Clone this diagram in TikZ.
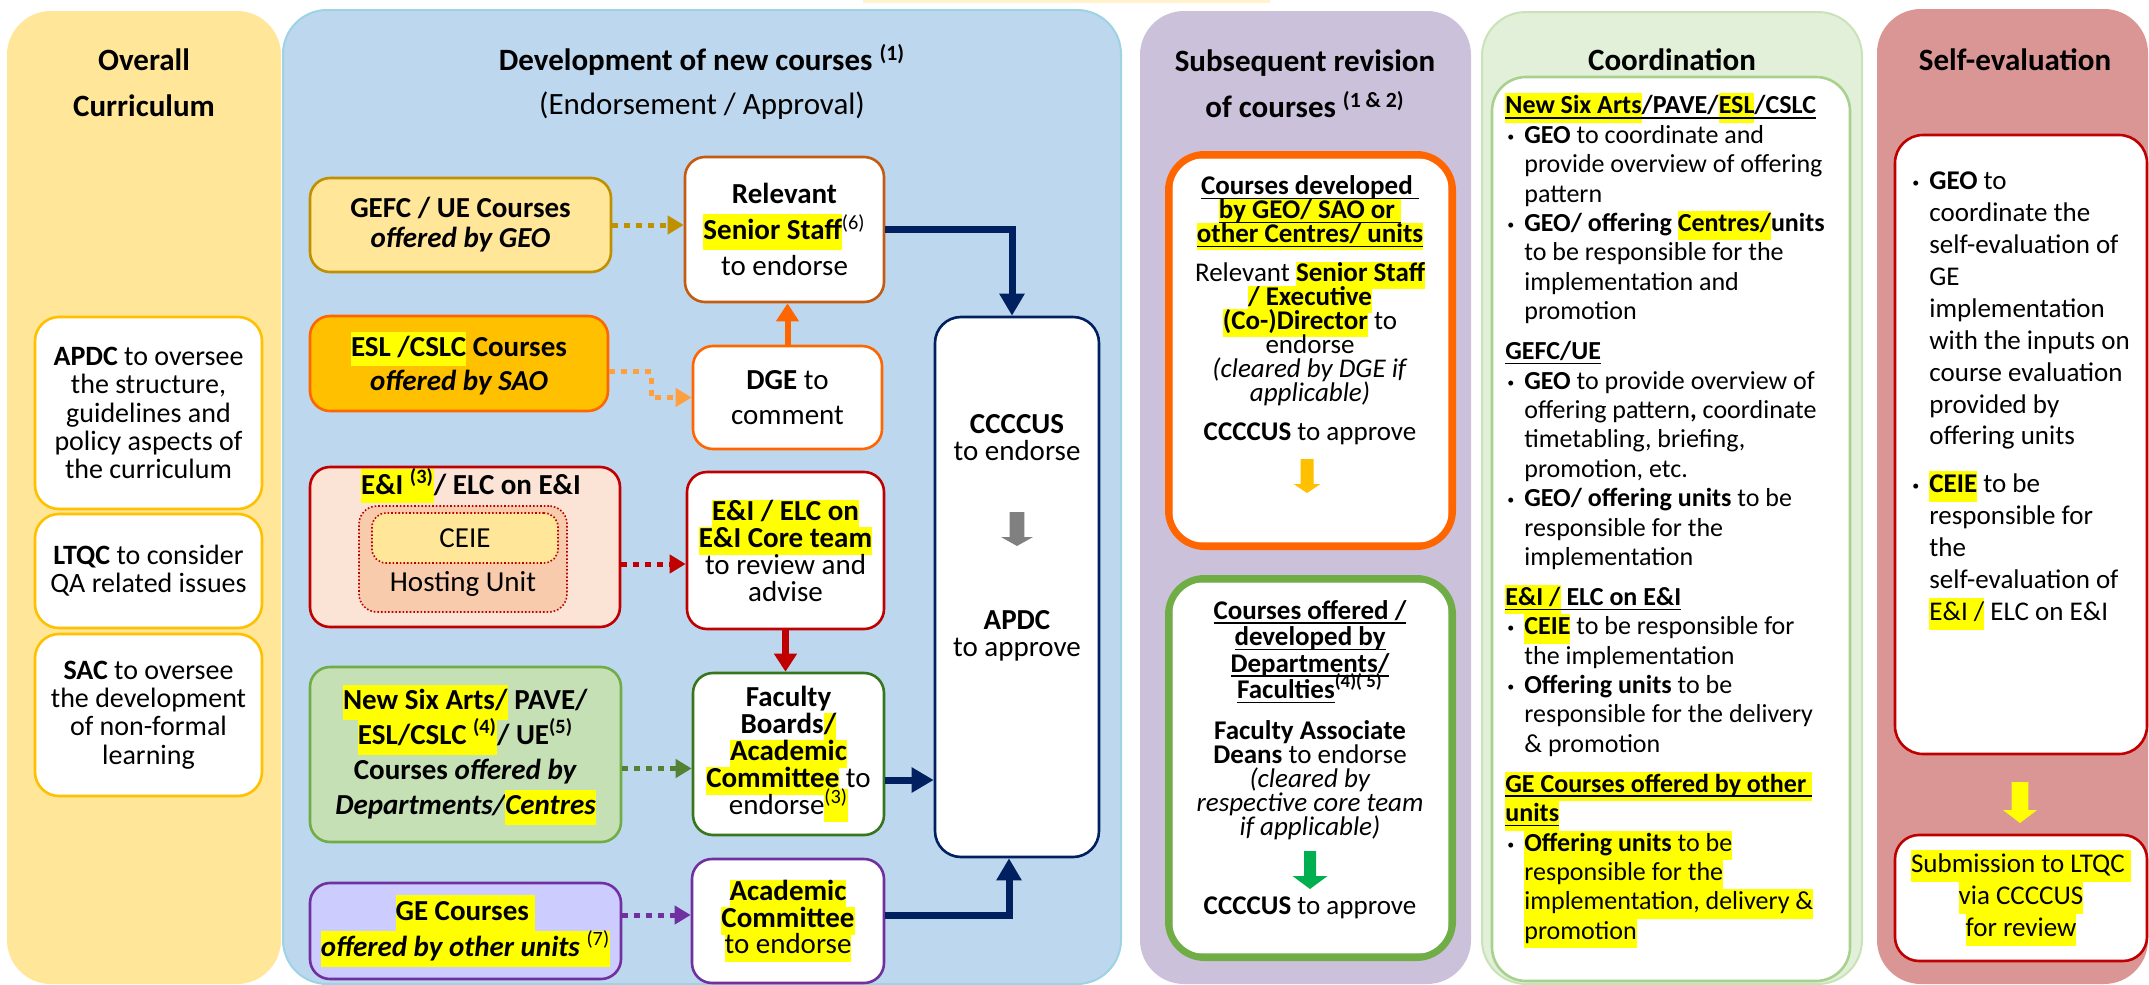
\documentclass[tikz,border=0pt]{standalone}
\usepackage{fontspec}
\setmainfont{Carlito}
\usetikzlibrary{arrows.meta,positioning}

\definecolor{laneyellow}{HTML}{FFE699}
\definecolor{laneblue}{HTML}{BDD7EE}
\definecolor{laneblueline}{HTML}{9DD3E3}
\definecolor{lanepurple}{HTML}{CCC1DA}
\definecolor{lanegreen}{HTML}{E2F0D9}
\definecolor{lanegreenline}{HTML}{C9E3B8}
\definecolor{lanered}{HTML}{D99694}
\definecolor{paleyellow}{HTML}{FFF2CC}
\definecolor{gold}{HTML}{FFC000}
\definecolor{darkgold}{HTML}{BF9000}
\definecolor{orng}{HTML}{FF6600}
\definecolor{orngsoft}{HTML}{FFA040}
\definecolor{brownorng}{HTML}{C55A11}
\definecolor{darkred}{HTML}{C00000}
\definecolor{peach}{HTML}{FBE3D6}
\definecolor{peachdark}{HTML}{F8CBAD}
\definecolor{leaf}{HTML}{70AD47}
\definecolor{leafdark}{HTML}{548235}
\definecolor{leaffill}{HTML}{C5E0B4}
\definecolor{forest}{HTML}{38761D}
\definecolor{purp}{HTML}{7030A0}
\definecolor{lavender}{HTML}{CCCCFF}
\definecolor{navy}{HTML}{002060}
\definecolor{hlyellow}{HTML}{FFFF00}
\definecolor{paleleaf}{HTML}{A9D18E}
\definecolor{emerald}{HTML}{00B050}
\definecolor{midgray}{HTML}{808080}

\lineskiplimit=-100pt
\newlength{\bulw}\setlength{\bulw}{9.5pt}
\newcommand{\hl}[1]{{\setlength{\fboxsep}{0pt}\colorbox{hlyellow}{\strut#1}}}
\newcommand{\undl}[1]{\setbox0\hbox{#1}\copy0\smash{\llap{\vrule width\wd0 height -1.6pt depth 2.3pt}}}
\newcommand{\bl}{\makebox[\bulw][l]{\hspace{1pt}\raisebox{1pt}{\fontsize{7}{7}\selectfont\textbullet}}}
\newcommand{\ind}{\hspace*{\bulw}}
\newcommand{\blockdown}[7]% x, top, neck, shaft half, head half, tip, colour
{\fill[#7] ({#1-#4},#2) -- ({#1+#4},#2) -- ({#1+#4},#3) -- ({#1+#5},#3) -- (#1,#6) -- ({#1-#5},#3) -- ({#1-#4},#3) -- cycle;
}

\tikzset{
  lane/.style={rounded corners=22pt},
  lanehead/.style={font=\fontsize{15.5}{23}\selectfont\bfseries, align=center, inner sep=0pt},
  cbox/.style={draw, fill=white, line width=1.3pt, rounded corners=10pt, align=center, inner sep=0pt},
  srcbox/.style={cbox, font=\fontsize{14.5}{15}\selectfont},
  leftbox/.style={cbox, draw=gold, rounded corners=12pt, minimum width=113.5pt, font=\fontsize{14}{14.1}\selectfont},
  dblbox/.style={draw, fill=white, line width=3.5pt, rounded corners=18pt, inner sep=0pt},
  plaintext/.style={align=center, inner sep=0pt},
  listtext/.style={align=left, inner sep=0pt, anchor=north west},
  feedarrow/.style={line width=2.5pt, dash pattern=on 3pt off 3pt, -{Triangle[length=8pt,width=9pt]}},
  liftarrow/.style={line width=3pt, -{Triangle[length=9pt,width=11pt]}},
  navyarrow/.style={draw=navy, line width=3.5pt, -{Triangle[length=11pt,width=12pt]}},
}

\begin{document}
\begin{tikzpicture}[x=0.5pt,y=-0.5pt]
\useasboundingbox (0,0) rectangle (2149,985);

% lanes
\fill[paleyellow] (863,0) rectangle (1270,2.5);
\fill[lane, laneyellow] (7,11) rectangle (281,984);
\filldraw[lane, fill=laneblue, draw=laneblueline, line width=1pt] (283,10) rectangle (1121,984);
\fill[lane, lanepurple] (1140,11) rectangle (1471,984);
\filldraw[lane, fill=lanegreen, draw=lanegreenline, line width=1pt] (1482,12) rectangle (1862,984);
\fill[lane, lanered] (1877,9) rectangle (2148,984);

% headers
\node[lanehead] (hcurr) at (144,83) {Overall\\Curriculum};
\node[lanehead, font=\fontsize{15.5}{22}\selectfont\bfseries] (hdev) at (702,82) {Development of new courses \textsuperscript{(1)}\\{\mdseries (Endorsement / Approval)}};
\node[lanehead] (hrev) at (1305,84) {Subsequent revision\\of courses \textsuperscript{(1 \& 2)}};
\node[lanehead] (hcoord) at (1672,60) {Coordination};
\node[lanehead] (hself) at (2015,60) {Self-evaluation};

% overall curriculum
\node[leftbox, minimum height=96pt] (apdc) at (148.5,413) {\textbf{APDC} to oversee\\the structure,\\guidelines and\\policy aspects of\\the curriculum};
\node[leftbox, minimum height=57pt] (ltqc) at (148.5,571) {\textbf{LTQC} to consider\\QA related issues};
\node[leftbox, minimum height=81pt] (sac) at (148.5,715) {\textbf{SAC} to oversee\\the development\\of non-formal\\learning};

% course sources
\node[srcbox, draw=darkgold, fill=laneyellow, minimum width=150.5pt, minimum height=47pt] (gefc) at (460.5,225) {\textbf{GEFC / UE Courses}\\\textbf{\textit{offered by GEO}}};
\node[srcbox, draw=orng, fill=gold, minimum width=149pt, minimum height=47.5pt, font=\fontsize{14.5}{17}\selectfont] (esl) at (459,363.5) {\hl{\textbf{ESL /CSLC}}\textbf{ Courses}\\\textbf{\textit{offered by SAO}}};
\node[srcbox, draw=darkred, fill=peach, minimum width=155pt, minimum height=80pt] (eni) at (465,547) {};
\node[plaintext, font=\fontsize{14.5}{15}\selectfont] (enititle) at (471,486) {\hl{\textbf{E\&I \textsuperscript{(3)}}}\textbf{/ ELC on E\&I}};
\node[draw=darkred, densely dotted, line width=0.8pt, fill=peachdark, rounded corners=9pt, minimum width=104pt, minimum height=53pt, inner sep=0pt] (hosting) at (463,559) {};
\node[draw=darkred, densely dotted, line width=0.8pt, fill=laneyellow, rounded corners=7pt, minimum width=93pt, minimum height=25pt, inner sep=0pt, font=\fontsize{14.5}{15}\selectfont] (ceie) at (465,538) {CEIE};
\node[plaintext, font=\fontsize{14.5}{15}\selectfont] (hostlabel) at (463,584) {Hosting Unit};
\node[srcbox, draw=leaf, fill=leaffill, minimum width=155.5pt, minimum height=87.5pt, font=\fontsize{14.5}{17.5}\selectfont] (newsix) at (465.5,754.5) {\hl{\textbf{New Six Arts/}} \textbf{PAVE/}\\\hl{\textbf{ESL/CSLC \textsuperscript{(4)}}}\textbf{/ UE\textsuperscript{(5)}}\\\textbf{Courses \textit{offered by}}\\\textbf{\textit{Departments/\hl{Centres}}}};
\node[srcbox, draw=purp, fill=lavender, minimum width=155.5pt, minimum height=48pt, font=\fontsize{14.5}{18}\selectfont] (ge) at (465.5,931) {\hl{\textbf{GE Courses }}\\\hl{\textbf{\textit{offered by other units }}\textsuperscript{(7)}}};

% endorsing bodies
\node[srcbox, draw=brownorng, minimum width=99.5pt, minimum height=72.5pt, font=\fontsize{14.5}{18}\selectfont] (relevant) at (784.5,229.5) {\textbf{Relevant}\\\hl{\textbf{Senior Staff}}\textsuperscript{(6)}\\to endorse};
\node[srcbox, draw=orng, minimum width=94.5pt, minimum height=51.5pt, font=\fontsize{14.5}{17.5}\selectfont] (dge) at (787.5,397.5) {\textbf{DGE} to\\comment};
\node[srcbox, draw=darkred, minimum width=98.5pt, minimum height=78.5pt, font=\fontsize{14.5}{13.5}\selectfont] (core) at (785.5,550.5) {\hl{\textbf{E\&I / ELC on}}\\\hl{\textbf{E\&I Core team}}\\to review and\\advise};
\node[srcbox, draw=forest, minimum width=95.5pt, minimum height=81pt, font=\fontsize{14.5}{13.5}\selectfont] (faculty) at (788.5,754) {\textbf{Faculty}\\\textbf{Boards}\hl{\textbf{/}}\\\hl{\textbf{Academic}}\\\hl{\textbf{Committee}} to\\endorse\hl{\textsuperscript{(3)}}};
\node[srcbox, draw=purp, minimum width=96pt, minimum height=62pt, font=\fontsize{14.5}{13.25}\selectfont] (academic) at (788,921) {\hl{\textbf{Academic}}\\\hl{\textbf{Committee}}\\\hl{to endorse}};
\node[cbox, draw=navy, rounded corners=13pt, minimum width=82pt, minimum height=270pt] (ccccus) at (1017,587) {};
\node[plaintext, font=\fontsize{14.5}{13.5}\selectfont] (endorse) at (1017,438) {\textbf{CCCCUS}\\to endorse};
\node[plaintext, font=\fontsize{14.5}{13.5}\selectfont] (approve) at (1017,636) {\textbf{APDC}\\to approve};
\blockdown{1017}{512}{537}{7.3}{16}{546}{midgray}

% dotted feeds
\draw[feedarrow, draw=darkgold] (gefc.east) -- (gefc.east -| relevant.west);
\coordinate (eslout) at ([yshift=-4pt]esl.east);
\draw[feedarrow, draw=orngsoft] (eslout) -- ++(42,0) |- (dge.west);
\coordinate (eniout) at ([yshift=-8.5pt]eni.east);
\draw[feedarrow, draw=darkred] (eniout) -- (eniout -| core.west);
\coordinate (sixout) at ([yshift=-7pt]newsix.east);
\draw[feedarrow, draw=leafdark] (sixout) -- (sixout -| faculty.west);
\coordinate (geout) at ([yshift=8pt]ge.east);
\draw[feedarrow, draw=purp] (geout) -- (geout -| academic.west);

% solid arrows
\draw[liftarrow, draw=orng] (dge.north) -- (dge.north |- relevant.south);
\draw[liftarrow, draw=darkred, line width=3.5pt] (core.south) -- (core.south |- faculty.north);
\draw[navyarrow] (relevant.east) -| ([xshift=-2.5pt]ccccus.north);
\coordinate (facout) at ([yshift=-13pt]faculty.east);
\draw[navyarrow] (facout) -- (facout -| ccccus.west);
\coordinate (acout) at ([yshift=3pt]academic.east);
\draw[navyarrow] (acout) -| ([xshift=-4pt]ccccus.south);

% subsequent revision
\node[dblbox, draw=orng, minimum width=142pt, minimum height=196pt] (obox) at (1310.5,350.5) {};
\draw[orng, line width=0.8pt, rounded corners=14pt] ([shift={(3.4pt,-3.4pt)}]obox.north west) rectangle ([shift={(-3.4pt,3.4pt)}]obox.south east);
\node[plaintext, font=\fontsize{13.5}{12}\selectfont] (otext) at (1310,310) {\textbf{\undl{Courses developed }}\\\textbf{\undl{\hl{by GEO/ SAO or }}}\\\textbf{\undl{\hl{other Centres/ units}}}\\[7.5pt]Relevant \hl{\textbf{Senior Staff}}\\\hl{\textbf{/ Executive}}\\\hl{\textbf{(Co-)Director}} to\\endorse\\\textit{(cleared by DGE if}\\\textit{applicable)}\\[7.5pt]\textbf{CCCCUS} to approve};
\blockdown{1307}{459}{484}{6.5}{13.5}{493}{gold}
\node[dblbox, draw=leaf, minimum width=142pt, minimum height=189.5pt] (gbox) at (1310.5,768) {};
\draw[leaf, line width=0.8pt, rounded corners=14pt] ([shift={(3.4pt,-3.4pt)}]gbox.north west) rectangle ([shift={(-3.4pt,3.4pt)}]gbox.south east);
\node[plaintext, font=\fontsize{13.5}{12}\selectfont] (gtext) at (1310,720) {\textbf{\undl{Courses offered /}}\\[1.2pt]\textbf{\undl{developed by}}\\[1.2pt]\textbf{\undl{Departments/}}\\[1.2pt]\textbf{\undl{Faculties}\textsuperscript{(4)( 5)}}\\[8.5pt]\textbf{Faculty Associate}\\\textbf{Deans} to endorse\\\textit{(cleared by}\\\textit{respective core team}\\\textit{if applicable)}};
\blockdown{1310}{851}{876}{6}{17.5}{889}{emerald}
\node[plaintext, font=\fontsize{13.5}{12.5}\selectfont] (gapprove) at (1310,908) {\textbf{CCCCUS} to approve};

% coordination
\node[cbox, draw=paleleaf, rounded corners=17pt, minimum width=179pt, minimum height=452pt] (coordbox) at (1671,529) {};
\node[listtext, font=\fontsize{13}{14.7}\selectfont] (coordlist) at (1505,93) {\strut\undl{\hl{\textbf{New Six Arts}}}\undl{\textbf{/PAVE/}}\undl{\hl{\textbf{ESL}}}\undl{\textbf{/CSLC}}\\
\bl\textbf{GEO} to coordinate and\\
\ind provide overview of offering\\
\ind pattern\\
\bl\textbf{GEO/ offering \hl{Centres/}units}\\
\ind to be responsible for the\\
\ind implementation and\\
\ind promotion\\[5.25pt]
\undl{\textbf{GEFC/UE}}\\
\bl\textbf{GEO} to provide overview of\\
\ind offering pattern\textbf{,} coordinate\\
\ind timetabling, briefing,\\
\ind promotion, etc.\\
\bl\textbf{GEO/ offering units} to be\\
\ind responsible for the\\
\ind implementation\\[5.25pt]
\undl{\hl{\textbf{E\&I /}}}\undl{\textbf{ ELC on E\&I}}\\
\bl\hl{\textbf{CEIE}} to be responsible for\\
\ind the implementation\\
\bl\textbf{Offering units} to be\\
\ind responsible for the delivery\\
\ind \& promotion\\[5.25pt]
\undl{\hl{\textbf{GE Courses offered by other }}}\\
\undl{\hl{\textbf{units}}}\\
\bl\hl{\textbf{Offering units} to be}\\
\ind\hl{responsible for the}\\
\ind\hl{implementation, delivery \&}\\
\ind\hl{promotion}};

% self-evaluation
\node[cbox, draw=darkred, rounded corners=14pt, minimum width=126pt, minimum height=309.5pt] (selfbox) at (2021,444.5) {};
\node[listtext, font=\fontsize{13.5}{15.95}\selectfont] (selflist) at (1910,167) {\strut\bl\textbf{GEO} to\\
\ind coordinate the\\
\ind self-evaluation of\\
\ind GE\\
\ind implementation\\
\ind with the inputs on\\
\ind course evaluation\\
\ind provided by\\
\ind offering units\\[8pt]
\bl\hl{\textbf{CEIE}} to be\\
\ind responsible for\\
\ind the\\
\ind self-evaluation of\\
\ind\hl{E\&I /} ELC on E\&I};
\blockdown{2020}{782}{810}{8.3}{17}{823}{hlyellow}
\node[cbox, draw=darkred, rounded corners=12pt, minimum width=126pt, minimum height=63pt, font=\fontsize{13.5}{16}\selectfont] (submit) at (2021,898) {\hl{Submission to LTQC }\\\hl{via CCCCUS}\\\hl{for review}};
\end{tikzpicture}
\end{document}
